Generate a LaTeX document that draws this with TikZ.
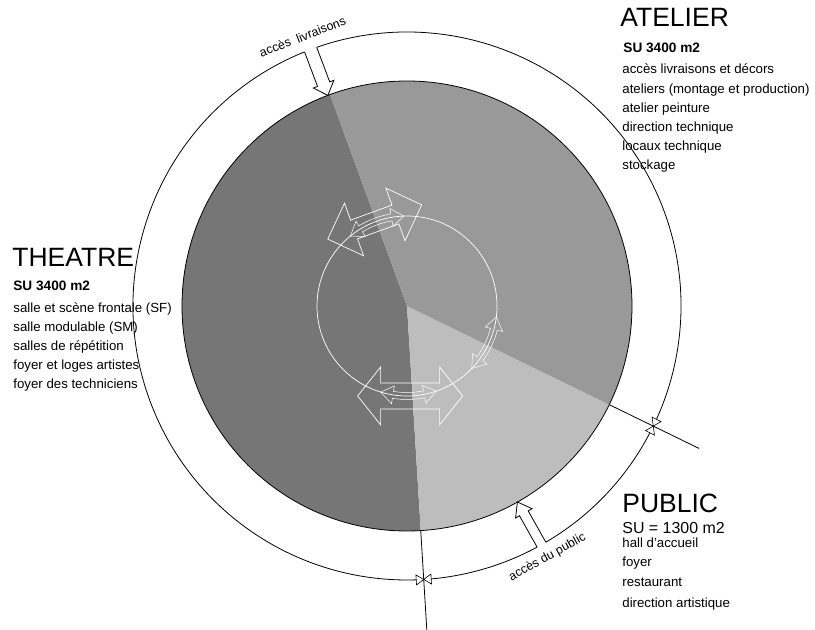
\documentclass[tikz,border=0pt]{standalone}
\usepackage{fontspec}
\setmainfont{Liberation Sans}
\definecolor{theatregray}{RGB}{118,118,118}
\definecolor{ateliergray}{RGB}{153,153,153}
\definecolor{publicgray}{RGB}{189,189,189}
\begin{document}
\begin{tikzpicture}[x=1bp, y=1bp, line width=0.8pt,
		title/.style={anchor=base west, inner sep=0pt, font=\fontsize{26.6}{28}\selectfont},
		area/.style={anchor=base west, inner sep=0pt, font=\bfseries\fontsize{13.7}{16}\selectfont},
		item/.style={anchor=base west, inner sep=0pt, font=\fontsize{13.3}{15}\selectfont},
		access/.style={inner sep=0pt, font=\fontsize{12.5}{14}\selectfont},
		valve/.style={fill=white, draw=black, line width=0.6pt},
		flow/.style={draw=white, line width=0.7pt}]
		\useasboundingbox (-407,-324) rectangle (408,306);
		
		%sectors
		\fill[theatregray] (0,0) -- (110:225) arc[start angle=110, end angle=273.5, radius=225] -- cycle;
		\fill[publicgray] (0,0) -- (-86.5:225) arc[start angle=-86.5, end angle=-26, radius=225] -- cycle;
		\fill[ateliergray] (0,0) -- (-26:225) arc[start angle=-26, end angle=110, radius=225] -- cycle;
		\draw (0,0) circle[radius=225];
		
		%outer ring, open where the access arrows come in
		\draw (111.96:274) arc[start angle=111.96, end angle=298.35, radius=274];
		\draw (300.45:274) arc[start angle=300.45, end angle=469.24, radius=274];
		
		%access arrows
		\begin{scope}[rotate=110.6]
			\draw (273.9,6.5) -- (237,6.5) -- (237,11) -- (225,0) -- (237,-11) -- (237,-6.5) -- (273.9,-6.5);
		\end{scope}
		\begin{scope}[rotate=-60.6]
			\draw (273.95,5) -- (238,5) -- (238,9.5) -- (225,0) -- (238,-9.5) -- (238,-5) -- (273.95,-5);
		\end{scope}
		\node[access, rotate=21] (livraisons) at (111.2:289) {accès~ livraisons};
		\node[access, rotate=29.2] (entree public) at (-60.8:288) {accès du public};
		
		%valves on the ring
		\foreach \a in {-26, -86.5}{
			\begin{scope}[shift={(\a:274)}, rotate=\a]
				\draw[valve] (0,0) -- (-5,7.5) -- (5,7.5) -- cycle (0,0) -- (-5,-7.5) -- (5,-7.5) -- cycle;
			\end{scope}
		}
		\draw (-26:225) -- (-26:325);
		\draw (-86.5:225) -- (-86.5:325);
		
		%exchanges in the middle
		\draw[flow] (0,0) circle[radius=90];
		\begin{scope}[shift={(111:90)}, rotate=20]
			\draw[flow] (-50,0) -- (-22,28) -- (-22,10) -- (22,10) -- (22,28) -- (50,0) -- (22,-28) -- (22,-10) -- (-22,-10) -- (-22,-28) -- cycle;
		\end{scope}
		\begin{scope}[shift={(-88:90)}]
			\draw[flow] (-52.5,0) -- (-29.5,29) -- (-29.5,13) -- (29.5,13) -- (29.5,29) -- (52.5,0) -- (29.5,-29) -- (29.5,-13) -- (-29.5,-13) -- (-29.5,-29) -- cycle;
		\end{scope}
		\foreach \a/\b in {92/129, -107/-71, -44/-7}{
			\draw[flow, line width=0.5pt] (\a:90) -- (\a+8:99) -- (\a+8:93.5) arc[start angle=\a+8, end angle=\b-8, radius=93.5] -- (\b-8:99) -- (\b:90) -- (\b-8:81) -- (\b-8:86.5) arc[start angle=\b-8, end angle=\a+8, radius=86.5] -- (\a+8:81) -- cycle;
		}
		
		%atelier
		\node[title] (atelier) at (213,279) {ATELIER};
		\node[area] (atelier su) at (216,253) {SU 3400 m2};
		\foreach \t [count=\i] in {accès livraisons et décors, ateliers (montage et production), atelier peinture, direction technique, locaux technique, stockage}{
			\node[item] (atelier \i) at (215, 232-19.2*\i+19.2) {\t};
		}
		
		%theatre
		\node[title] (theatre) at (-395,39) {THEATRE};
		\node[area] (theatre su) at (-394,15) {SU 3400 m2};
		\foreach \t [count=\i] in {salle et scène frontale (SF), salle modulable (SM), salles de répétition, foyer et loges artistes, foyer des techniciens}{
			\node[item] (theatre \i) at (-394, -7-18.8*\i+18.8) {\t};
		}
		
		%public
		\node[title] (public) at (215,-207) {PUBLIC};
		\node[anchor=base west, inner sep=0pt, font=\fontsize{16}{18}\selectfont] (public su) at (215,-228) {SU = 1300 m2};
		\foreach \y/\t [count=\i] in {-242/hall d'accueil, -261/foyer, -280/restaurant, -301/direction artistique}{
			\node[item] (public \i) at (215, \y) {\t};
		}
\end{tikzpicture}
\end{document}
